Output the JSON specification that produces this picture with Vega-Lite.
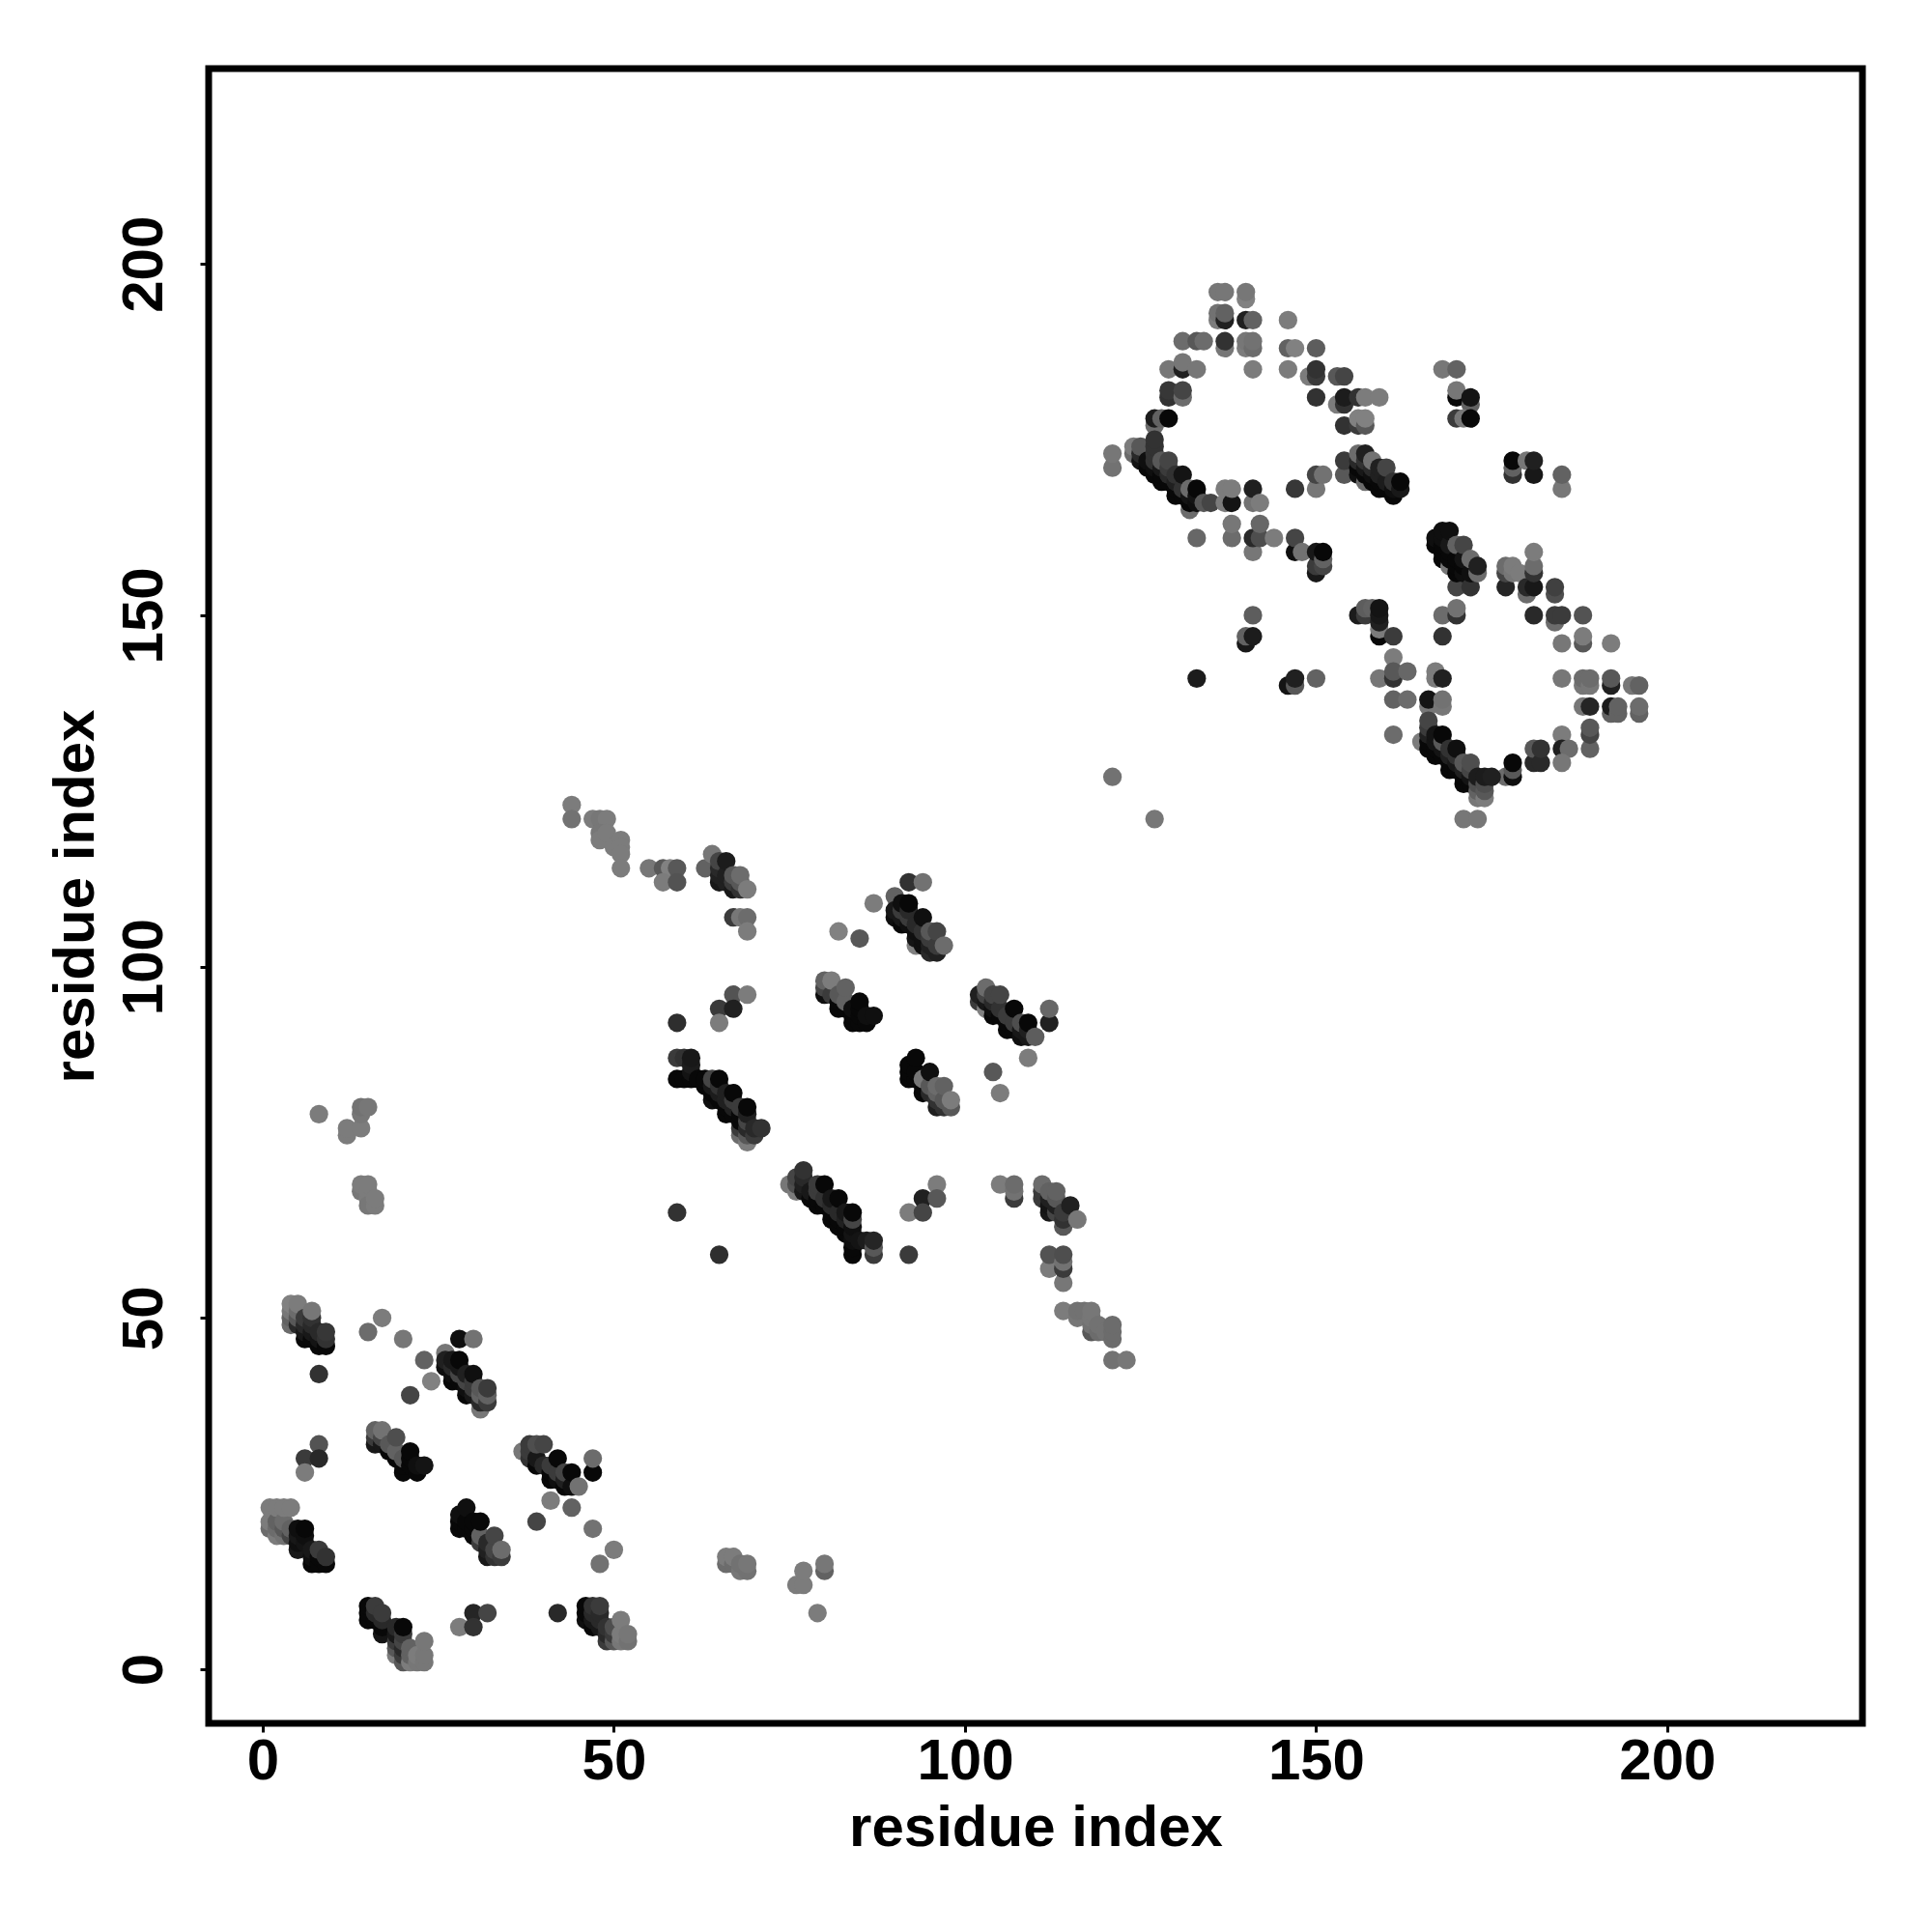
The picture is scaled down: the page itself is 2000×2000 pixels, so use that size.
{"$schema":"https://vega.github.io/schema/vega-lite/v6.json","width":1712,"height":1713,"autosize":{"type":"none"},"padding":{"left":216,"top":71,"right":72,"bottom":216},"background":"white","view":{"stroke":"black","strokeWidth":7},
"data":{"values":[
{"x":4,"y":49,"g":110},{"x":4,"y":50,"g":100},{"x":4,"y":51,"g":120},{"x":4,"y":52,"g":130},{"x":5,"y":49,"g":40},{"x":5,"y":50,"g":90},{"x":5,"y":51,"g":110},{"x":5,"y":52,"g":125},{"x":6,"y":47,"g":5},{"x":6,"y":48,"g":20},{"x":6,"y":49,"g":40},{"x":6,"y":50,"g":60},{"x":7,"y":47,"g":5},{"x":7,"y":48,"g":20},{"x":7,"y":49,"g":40},{"x":7,"y":50,"g":50},{"x":7,"y":51,"g":120},{"x":8,"y":46,"g":5},{"x":8,"y":47,"g":15},{"x":8,"y":48,"g":40},{"x":9,"y":46,"g":5},{"x":9,"y":47,"g":50},{"x":9,"y":48,"g":55},
{"x":8,"y":42,"g":50},{"x":15,"y":48,"g":110},{"x":17,"y":50,"g":125},{"x":20,"y":47,"g":120},{"x":23,"y":44,"g":100},{"x":21,"y":39,"g":70},{"x":24,"y":41,"g":130},{"x":28,"y":47,"g":10},{"x":30,"y":47,"g":115},{"x":26,"y":45,"g":120},
{"x":26,"y":43,"g":10},{"x":26,"y":44,"g":30},{"x":27,"y":41,"g":5},{"x":27,"y":42,"g":10},{"x":27,"y":43,"g":40},{"x":27,"y":44,"g":20},{"x":28,"y":41,"g":5},{"x":28,"y":42,"g":70},{"x":28,"y":43,"g":20},{"x":28,"y":44,"g":5},{"x":29,"y":39,"g":5},{"x":29,"y":40,"g":10},{"x":29,"y":41,"g":70},{"x":29,"y":42,"g":30},{"x":30,"y":39,"g":20},{"x":30,"y":40,"g":60},{"x":30,"y":41,"g":60},{"x":30,"y":42,"g":10},{"x":31,"y":37,"g":120},{"x":31,"y":38,"g":40},{"x":31,"y":39,"g":100},{"x":31,"y":40,"g":90},{"x":32,"y":38,"g":60},{"x":32,"y":39,"g":100},{"x":32,"y":40,"g":60},
{"x":16,"y":32,"g":20},{"x":16,"y":33,"g":60},{"x":16,"y":34,"g":100},{"x":17,"y":32,"g":20},{"x":17,"y":33,"g":70},{"x":17,"y":34,"g":115},{"x":18,"y":31,"g":5},{"x":18,"y":32,"g":90},{"x":19,"y":30,"g":5},{"x":19,"y":31,"g":100},{"x":19,"y":33,"g":80},{"x":20,"y":28,"g":5},{"x":20,"y":29,"g":5},{"x":20,"y":30,"g":90},{"x":21,"y":29,"g":5},{"x":21,"y":30,"g":5},{"x":21,"y":31,"g":5},{"x":22,"y":28,"g":5},{"x":22,"y":29,"g":10},{"x":23,"y":29,"g":15},
{"x":8,"y":32,"g":85},{"x":6,"y":30,"g":60},{"x":8,"y":30,"g":40},{"x":6,"y":28,"g":125},
{"x":1,"y":20,"g":110},{"x":1,"y":21,"g":125},{"x":1,"y":23,"g":125},{"x":2,"y":19,"g":125},{"x":2,"y":20,"g":110},{"x":2,"y":21,"g":100},{"x":2,"y":23,"g":125},{"x":3,"y":19,"g":115},{"x":3,"y":20,"g":90},{"x":3,"y":21,"g":110},{"x":3,"y":23,"g":125},{"x":4,"y":19,"g":70},{"x":4,"y":20,"g":100},{"x":4,"y":23,"g":125},{"x":5,"y":17,"g":20},{"x":5,"y":18,"g":10},{"x":5,"y":19,"g":20},{"x":5,"y":20,"g":10},{"x":6,"y":18,"g":15},{"x":6,"y":19,"g":10},{"x":6,"y":20,"g":5},{"x":7,"y":15,"g":5},{"x":7,"y":16,"g":10},{"x":7,"y":17,"g":20},{"x":8,"y":15,"g":5},{"x":8,"y":16,"g":5},{"x":8,"y":17,"g":60},{"x":9,"y":15,"g":5},{"x":9,"y":16,"g":50},
{"x":28,"y":20,"g":5},{"x":28,"y":21,"g":5},{"x":28,"y":22,"g":10},{"x":29,"y":20,"g":5},{"x":29,"y":21,"g":5},{"x":29,"y":23,"g":10},{"x":30,"y":19,"g":5},{"x":30,"y":20,"g":5},{"x":30,"y":21,"g":5},{"x":31,"y":18,"g":60},{"x":31,"y":19,"g":100},{"x":31,"y":21,"g":5},{"x":32,"y":16,"g":20},{"x":32,"y":17,"g":30},{"x":32,"y":18,"g":40},{"x":33,"y":16,"g":50},{"x":33,"y":17,"g":70},{"x":33,"y":19,"g":70},{"x":34,"y":16,"g":60},{"x":34,"y":17,"g":110},
{"x":37,"y":31,"g":120},{"x":38,"y":30,"g":50},{"x":38,"y":31,"g":60},{"x":38,"y":32,"g":60},{"x":39,"y":29,"g":5},{"x":39,"y":30,"g":20},{"x":39,"y":32,"g":80},{"x":40,"y":29,"g":40},{"x":40,"y":32,"g":70},{"x":41,"y":27,"g":5},{"x":41,"y":28,"g":5},{"x":41,"y":29,"g":60},{"x":42,"y":27,"g":10},{"x":42,"y":28,"g":60},{"x":42,"y":30,"g":5},{"x":43,"y":26,"g":5},{"x":43,"y":27,"g":30},{"x":43,"y":28,"g":70},{"x":44,"y":26,"g":10},{"x":44,"y":28,"g":5},{"x":45,"y":26,"g":115},{"x":47,"y":28,"g":5},{"x":47,"y":30,"g":110},{"x":41,"y":24,"g":125},{"x":44,"y":23,"g":100},{"x":39,"y":21,"g":70},{"x":47,"y":20,"g":115},{"x":50,"y":17,"g":125},{"x":48,"y":15,"g":115},
{"x":15,"y":7,"g":5},{"x":15,"y":8,"g":5},{"x":15,"y":9,"g":5},{"x":16,"y":7,"g":5},{"x":16,"y":8,"g":40},{"x":16,"y":9,"g":60},{"x":17,"y":5,"g":15},{"x":17,"y":6,"g":5},{"x":17,"y":7,"g":40},{"x":17,"y":8,"g":60},{"x":19,"y":2,"g":125},{"x":19,"y":3,"g":90},{"x":19,"y":4,"g":60},{"x":19,"y":5,"g":20},{"x":19,"y":6,"g":40},{"x":20,"y":1,"g":90},{"x":20,"y":2,"g":60},{"x":20,"y":3,"g":40},{"x":20,"y":4,"g":70},{"x":20,"y":5,"g":60},{"x":20,"y":6,"g":5},{"x":21,"y":1,"g":125},{"x":21,"y":2,"g":100},{"x":21,"y":3,"g":100},{"x":22,"y":1,"g":120},{"x":22,"y":2,"g":125},{"x":23,"y":1,"g":120},{"x":23,"y":2,"g":120},{"x":23,"y":4,"g":120},
{"x":30,"y":8,"g":35},{"x":32,"y":8,"g":70},{"x":28,"y":6,"g":125},{"x":30,"y":6,"g":50},{"x":42,"y":8,"g":40},
{"x":46,"y":7,"g":10},{"x":46,"y":8,"g":5},{"x":46,"y":9,"g":5},{"x":47,"y":6,"g":5},{"x":47,"y":7,"g":20},{"x":47,"y":8,"g":40},{"x":47,"y":9,"g":50},{"x":48,"y":6,"g":20},{"x":48,"y":7,"g":40},{"x":48,"y":8,"g":40},{"x":48,"y":9,"g":60},{"x":49,"y":4,"g":60},{"x":49,"y":5,"g":40},{"x":49,"y":6,"g":50},{"x":50,"y":4,"g":90},{"x":50,"y":5,"g":60},{"x":50,"y":6,"g":80},{"x":51,"y":4,"g":120},{"x":51,"y":5,"g":125},{"x":51,"y":7,"g":125},{"x":52,"y":4,"g":115},{"x":52,"y":5,"g":120},
{"x":66,"y":15,"g":110},{"x":66,"y":16,"g":125},{"x":67,"y":15,"g":110},{"x":67,"y":16,"g":125},{"x":68,"y":14,"g":120},{"x":68,"y":15,"g":115},{"x":69,"y":14,"g":115},{"x":69,"y":15,"g":120},{"x":76,"y":12,"g":125},{"x":77,"y":12,"g":125},{"x":77,"y":14,"g":125},{"x":80,"y":14,"g":100},{"x":80,"y":15,"g":120},{"x":79,"y":8,"g":125},
{"x":8,"y":79,"g":125},{"x":12,"y":76,"g":125},{"x":12,"y":77,"g":125},{"x":14,"y":77,"g":125},{"x":14,"y":79,"g":120},{"x":14,"y":80,"g":115},{"x":15,"y":80,"g":120},{"x":14,"y":68,"g":120},{"x":14,"y":69,"g":125},{"x":15,"y":67,"g":125},{"x":15,"y":68,"g":125},{"x":15,"y":69,"g":125},{"x":15,"y":66,"g":120},{"x":16,"y":66,"g":125},{"x":16,"y":67,"g":125},
{"x":44,"y":123,"g":125},{"x":44,"y":121,"g":115},{"x":47,"y":121,"g":125},{"x":48,"y":121,"g":120},{"x":49,"y":121,"g":125},{"x":48,"y":119,"g":120},{"x":48,"y":118,"g":125},{"x":49,"y":119,"g":125},{"x":50,"y":117,"g":125},{"x":51,"y":118,"g":125},{"x":51,"y":117,"g":125},{"x":51,"y":116,"g":125},{"x":51,"y":114,"g":125},
{"x":55,"y":114,"g":120},{"x":57,"y":114,"g":90},{"x":58,"y":114,"g":130},{"x":59,"y":114,"g":90},{"x":57,"y":112,"g":125},{"x":59,"y":112,"g":85},
{"x":63,"y":114,"g":100},{"x":64,"y":116,"g":120},{"x":65,"y":112,"g":20},{"x":65,"y":113,"g":30},{"x":65,"y":114,"g":40},{"x":65,"y":115,"g":70},{"x":66,"y":112,"g":30},{"x":66,"y":113,"g":30},{"x":66,"y":115,"g":25},{"x":67,"y":111,"g":20},{"x":67,"y":112,"g":60},{"x":67,"y":113,"g":90},{"x":68,"y":111,"g":50},{"x":68,"y":112,"g":90},{"x":68,"y":113,"g":110},{"x":69,"y":111,"g":125},
{"x":67,"y":107,"g":60},{"x":68,"y":107,"g":120},{"x":69,"y":107,"g":110},{"x":69,"y":105,"g":125},
{"x":92,"y":112,"g":50},{"x":94,"y":112,"g":115},{"x":90,"y":110,"g":100},{"x":87,"y":109,"g":125},{"x":82,"y":105,"g":130},{"x":85,"y":104,"g":90},
{"x":90,"y":107,"g":10},{"x":90,"y":108,"g":20},{"x":91,"y":106,"g":5},{"x":91,"y":107,"g":20},{"x":91,"y":108,"g":60},{"x":91,"y":109,"g":10},{"x":92,"y":106,"g":10},{"x":92,"y":107,"g":60},{"x":92,"y":108,"g":40},{"x":92,"y":109,"g":5},{"x":93,"y":103,"g":130},{"x":93,"y":104,"g":15},{"x":93,"y":105,"g":10},{"x":93,"y":106,"g":40},{"x":94,"y":103,"g":10},{"x":94,"y":104,"g":10},{"x":94,"y":105,"g":50},{"x":94,"y":107,"g":10},{"x":95,"y":102,"g":40},{"x":95,"y":103,"g":30},{"x":95,"y":104,"g":60},{"x":95,"y":105,"g":90},{"x":96,"y":102,"g":30},{"x":96,"y":103,"g":60},{"x":96,"y":105,"g":70},{"x":97,"y":103,"g":110},
{"x":80,"y":96,"g":10},{"x":80,"y":97,"g":70},{"x":80,"y":98,"g":100},{"x":81,"y":96,"g":60},{"x":81,"y":98,"g":125},{"x":82,"y":94,"g":5},{"x":82,"y":95,"g":5},{"x":82,"y":96,"g":90},{"x":83,"y":94,"g":5},{"x":83,"y":95,"g":100},{"x":83,"y":97,"g":100},{"x":84,"y":92,"g":5},{"x":84,"y":93,"g":5},{"x":84,"y":94,"g":10},{"x":85,"y":92,"g":5},{"x":85,"y":93,"g":5},{"x":85,"y":94,"g":5},{"x":85,"y":95,"g":5},{"x":86,"y":92,"g":5},{"x":86,"y":93,"g":10},{"x":87,"y":93,"g":10},
{"x":67,"y":96,"g":85},{"x":69,"y":96,"g":125},{"x":65,"y":94,"g":60},{"x":67,"y":94,"g":30},{"x":59,"y":92,"g":45},{"x":65,"y":92,"g":125},
{"x":59,"y":84,"g":5},{"x":59,"y":87,"g":60},{"x":60,"y":84,"g":5},{"x":60,"y":87,"g":50},{"x":61,"y":84,"g":5},{"x":61,"y":85,"g":15},{"x":61,"y":86,"g":25},{"x":61,"y":87,"g":20},{"x":62,"y":84,"g":5},{"x":63,"y":83,"g":5},{"x":63,"y":84,"g":5},{"x":64,"y":81,"g":10},{"x":64,"y":82,"g":5},{"x":64,"y":83,"g":20},{"x":64,"y":84,"g":70},{"x":65,"y":81,"g":5},{"x":65,"y":82,"g":25},{"x":65,"y":83,"g":50},{"x":65,"y":84,"g":5},{"x":66,"y":79,"g":5},{"x":66,"y":80,"g":5},{"x":66,"y":81,"g":30},{"x":66,"y":82,"g":30},{"x":67,"y":79,"g":5},{"x":67,"y":80,"g":30},{"x":67,"y":81,"g":60},{"x":67,"y":82,"g":5},{"x":68,"y":76,"g":110},{"x":68,"y":77,"g":60},{"x":68,"y":78,"g":5},{"x":68,"y":79,"g":5},{"x":68,"y":80,"g":60},{"x":69,"y":75,"g":125},{"x":69,"y":76,"g":90},{"x":69,"y":77,"g":40},{"x":69,"y":78,"g":70},{"x":69,"y":79,"g":30},{"x":69,"y":80,"g":5},{"x":70,"y":76,"g":60},{"x":70,"y":77,"g":40},{"x":71,"y":77,"g":50},
{"x":92,"y":84,"g":5},{"x":92,"y":85,"g":5},{"x":92,"y":86,"g":5},{"x":93,"y":84,"g":5},{"x":93,"y":85,"g":5},{"x":93,"y":87,"g":5},{"x":94,"y":82,"g":5},{"x":94,"y":83,"g":5},{"x":94,"y":84,"g":120},{"x":95,"y":82,"g":40},{"x":95,"y":83,"g":90},{"x":95,"y":85,"g":10},{"x":96,"y":80,"g":30},{"x":96,"y":81,"g":50},{"x":96,"y":82,"g":100},{"x":96,"y":83,"g":110},{"x":97,"y":80,"g":50},{"x":97,"y":81,"g":90},{"x":97,"y":83,"g":100},{"x":98,"y":80,"g":90},{"x":98,"y":81,"g":125},
{"x":102,"y":95,"g":60},{"x":102,"y":96,"g":30},{"x":103,"y":94,"g":130},{"x":103,"y":95,"g":20},{"x":103,"y":96,"g":70},{"x":103,"y":97,"g":110},{"x":104,"y":93,"g":5},{"x":104,"y":94,"g":10},{"x":104,"y":95,"g":40},{"x":104,"y":96,"g":70},{"x":105,"y":93,"g":5},{"x":105,"y":94,"g":50},{"x":105,"y":96,"g":70},{"x":106,"y":91,"g":5},{"x":106,"y":92,"g":5},{"x":106,"y":93,"g":60},{"x":107,"y":91,"g":5},{"x":107,"y":92,"g":60},{"x":107,"y":94,"g":5},{"x":108,"y":90,"g":10},{"x":108,"y":91,"g":20},{"x":108,"y":92,"g":80},{"x":109,"y":90,"g":20},{"x":109,"y":91,"g":30},{"x":109,"y":92,"g":5},{"x":110,"y":90,"g":95},{"x":112,"y":92,"g":30},{"x":112,"y":94,"g":105},{"x":109,"y":87,"g":125},{"x":104,"y":85,"g":90},{"x":105,"y":82,"g":125},
{"x":59,"y":65,"g":50},{"x":65,"y":59,"g":45},{"x":92,"y":59,"g":60},
{"x":75,"y":69,"g":120},{"x":76,"y":68,"g":125},{"x":76,"y":69,"g":80},{"x":76,"y":70,"g":70},{"x":77,"y":68,"g":20},{"x":77,"y":69,"g":30},{"x":77,"y":70,"g":40},{"x":77,"y":71,"g":50},{"x":78,"y":67,"g":5},{"x":78,"y":68,"g":20},{"x":79,"y":66,"g":5},{"x":79,"y":67,"g":5},{"x":79,"y":68,"g":60},{"x":79,"y":69,"g":60},{"x":80,"y":66,"g":5},{"x":80,"y":67,"g":50},{"x":80,"y":69,"g":5},{"x":81,"y":64,"g":5},{"x":81,"y":65,"g":5},{"x":81,"y":66,"g":40},{"x":81,"y":67,"g":20},{"x":82,"y":63,"g":5},{"x":82,"y":64,"g":5},{"x":82,"y":65,"g":40},{"x":82,"y":67,"g":5},{"x":83,"y":62,"g":5},{"x":83,"y":63,"g":5},{"x":83,"y":64,"g":30},{"x":83,"y":65,"g":20},{"x":84,"y":59,"g":5},{"x":84,"y":60,"g":5},{"x":84,"y":61,"g":10},{"x":84,"y":62,"g":15},{"x":84,"y":63,"g":10},{"x":84,"y":64,"g":70},{"x":84,"y":65,"g":5},{"x":85,"y":61,"g":15},{"x":86,"y":61,"g":25},{"x":87,"y":59,"g":60},{"x":87,"y":60,"g":90},{"x":87,"y":61,"g":35},
{"x":96,"y":69,"g":125},{"x":94,"y":67,"g":30},{"x":96,"y":67,"g":90},{"x":92,"y":65,"g":125},{"x":94,"y":65,"g":70},
{"x":105,"y":69,"g":125},{"x":107,"y":67,"g":60},{"x":107,"y":68,"g":115},{"x":107,"y":69,"g":110},
{"x":111,"y":67,"g":60},{"x":111,"y":68,"g":60},{"x":111,"y":69,"g":110},{"x":112,"y":65,"g":20},{"x":112,"y":66,"g":15},{"x":112,"y":67,"g":30},{"x":112,"y":68,"g":100},{"x":113,"y":65,"g":70},{"x":113,"y":66,"g":30},{"x":113,"y":67,"g":90},{"x":113,"y":68,"g":100},{"x":114,"y":63,"g":90},{"x":114,"y":64,"g":50},{"x":114,"y":65,"g":60},{"x":115,"y":66,"g":30},{"x":116,"y":64,"g":120},
{"x":112,"y":57,"g":125},{"x":112,"y":59,"g":85},{"x":114,"y":55,"g":120},{"x":114,"y":57,"g":60},{"x":114,"y":58,"g":115},{"x":114,"y":59,"g":80},
{"x":114,"y":51,"g":125},{"x":116,"y":50,"g":120},{"x":116,"y":51,"g":115},{"x":117,"y":51,"g":115},{"x":118,"y":48,"g":90},{"x":118,"y":49,"g":115},{"x":118,"y":50,"g":120},{"x":118,"y":51,"g":120},{"x":119,"y":48,"g":110},{"x":119,"y":49,"g":115},{"x":120,"y":48,"g":115},{"x":121,"y":47,"g":110},{"x":121,"y":48,"g":110},{"x":121,"y":49,"g":110},{"x":121,"y":44,"g":115},{"x":123,"y":44,"g":120},
{"x":121,"y":127,"g":115},{"x":127,"y":121,"g":120},
{"x":136,"y":196,"g":120},{"x":137,"y":196,"g":120},{"x":140,"y":195,"g":130},{"x":140,"y":196,"g":120},{"x":136,"y":192,"g":125},{"x":136,"y":193,"g":115},{"x":137,"y":192,"g":30},{"x":137,"y":193,"g":100},{"x":140,"y":192,"g":30},{"x":141,"y":192,"g":100},{"x":146,"y":192,"g":125},
{"x":131,"y":189,"g":110},{"x":133,"y":189,"g":90},{"x":134,"y":189,"g":110},{"x":137,"y":188,"g":120},{"x":137,"y":189,"g":50},{"x":140,"y":188,"g":125},{"x":140,"y":189,"g":120},{"x":141,"y":188,"g":110},{"x":141,"y":189,"g":115},{"x":146,"y":188,"g":100},{"x":147,"y":188,"g":130},{"x":150,"y":188,"g":95},
{"x":129,"y":185,"g":120},{"x":131,"y":185,"g":30},{"x":131,"y":186,"g":120},{"x":133,"y":185,"g":120},{"x":141,"y":185,"g":125},{"x":146,"y":185,"g":125},{"x":149,"y":184,"g":125},{"x":150,"y":184,"g":60},{"x":150,"y":185,"g":50},{"x":153,"y":184,"g":90},{"x":154,"y":184,"g":70},
{"x":129,"y":181,"g":50},{"x":129,"y":182,"g":55},{"x":131,"y":181,"g":110},{"x":131,"y":182,"g":70},{"x":150,"y":181,"g":50},{"x":153,"y":180,"g":125},{"x":154,"y":180,"g":50},{"x":154,"y":181,"g":25},{"x":156,"y":181,"g":50},{"x":157,"y":181,"g":125},{"x":159,"y":181,"g":125},
{"x":127,"y":177,"g":110},{"x":127,"y":178,"g":25},{"x":128,"y":178,"g":100},{"x":129,"y":178,"g":5},{"x":154,"y":177,"g":50},{"x":156,"y":177,"g":60},{"x":156,"y":178,"g":130},{"x":157,"y":177,"g":90},{"x":157,"y":178,"g":130},
{"x":121,"y":171,"g":115},{"x":121,"y":173,"g":120},{"x":124,"y":173,"g":110},{"x":124,"y":174,"g":125},{"x":125,"y":172,"g":15},{"x":125,"y":173,"g":40},{"x":125,"y":174,"g":90},{"x":126,"y":171,"g":5},{"x":126,"y":172,"g":10},{"x":127,"y":170,"g":5},{"x":127,"y":171,"g":10},{"x":127,"y":172,"g":50},{"x":127,"y":173,"g":50},{"x":127,"y":174,"g":50},{"x":127,"y":175,"g":50},{"x":128,"y":169,"g":5},{"x":128,"y":170,"g":5},{"x":128,"y":171,"g":20},{"x":128,"y":172,"g":90},{"x":129,"y":169,"g":5},{"x":129,"y":170,"g":40},{"x":129,"y":171,"g":60},{"x":129,"y":172,"g":70},{"x":130,"y":167,"g":5},{"x":130,"y":168,"g":5},{"x":130,"y":169,"g":30},{"x":130,"y":170,"g":50},{"x":131,"y":167,"g":5},{"x":131,"y":168,"g":50},{"x":131,"y":170,"g":15},{"x":132,"y":165,"g":110},{"x":132,"y":166,"g":5},{"x":132,"y":167,"g":15},{"x":132,"y":168,"g":110},{"x":133,"y":166,"g":10},{"x":133,"y":167,"g":15},{"x":133,"y":168,"g":5},{"x":134,"y":166,"g":90},{"x":135,"y":166,"g":70},
{"x":137,"y":166,"g":125},{"x":137,"y":168,"g":125},{"x":138,"y":166,"g":15},{"x":138,"y":168,"g":125},{"x":141,"y":166,"g":115},{"x":141,"y":168,"g":30},{"x":142,"y":166,"g":125},{"x":147,"y":168,"g":55},{"x":150,"y":168,"g":120},{"x":150,"y":170,"g":70},{"x":151,"y":170,"g":115},
{"x":138,"y":161,"g":110},{"x":138,"y":163,"g":120},{"x":133,"y":161,"g":105},{"x":141,"y":159,"g":120},{"x":141,"y":161,"g":40},{"x":142,"y":161,"g":80},{"x":142,"y":163,"g":105},{"x":144,"y":161,"g":125},{"x":147,"y":159,"g":10},{"x":147,"y":161,"g":70},{"x":148,"y":159,"g":115},{"x":150,"y":156,"g":20},{"x":150,"y":157,"g":60},{"x":150,"y":159,"g":20},{"x":151,"y":157,"g":70},{"x":151,"y":158,"g":100},{"x":151,"y":159,"g":5},
{"x":154,"y":170,"g":90},{"x":154,"y":172,"g":60},{"x":156,"y":170,"g":10},{"x":156,"y":171,"g":5},{"x":156,"y":172,"g":40},{"x":156,"y":173,"g":110},{"x":157,"y":169,"g":110},{"x":157,"y":170,"g":5},{"x":157,"y":171,"g":20},{"x":157,"y":172,"g":50},{"x":157,"y":173,"g":30},{"x":158,"y":169,"g":5},{"x":158,"y":170,"g":10},{"x":158,"y":171,"g":40},{"x":158,"y":172,"g":115},{"x":159,"y":168,"g":5},{"x":159,"y":169,"g":5},{"x":159,"y":170,"g":30},{"x":159,"y":171,"g":30},{"x":160,"y":168,"g":5},{"x":160,"y":169,"g":25},{"x":160,"y":171,"g":70},{"x":161,"y":167,"g":5},{"x":161,"y":168,"g":10},{"x":161,"y":169,"g":50},{"x":162,"y":168,"g":20},{"x":162,"y":169,"g":5},
{"x":168,"y":185,"g":120},{"x":170,"y":185,"g":100},{"x":170,"y":181,"g":5},{"x":170,"y":182,"g":120},{"x":172,"y":180,"g":100},{"x":172,"y":181,"g":15},{"x":170,"y":178,"g":60},{"x":171,"y":178,"g":120},{"x":172,"y":178,"g":5},
{"x":178,"y":170,"g":50},{"x":178,"y":171,"g":100},{"x":178,"y":172,"g":5},{"x":180,"y":172,"g":120},{"x":181,"y":170,"g":20},{"x":181,"y":172,"g":30},{"x":185,"y":168,"g":120},{"x":185,"y":170,"g":100},
{"x":168,"y":147,"g":50},{"x":168,"y":150,"g":110},{"x":170,"y":150,"g":50},{"x":170,"y":151,"g":115},
{"x":141,"y":150,"g":95},{"x":140,"y":146,"g":20},{"x":140,"y":147,"g":100},{"x":141,"y":147,"g":25},
{"x":133,"y":141,"g":25},{"x":146,"y":140,"g":15},{"x":147,"y":140,"g":90},{"x":147,"y":141,"g":30},{"x":150,"y":141,"g":100},
{"x":156,"y":150,"g":25},{"x":157,"y":150,"g":60},{"x":157,"y":151,"g":95},{"x":158,"y":151,"g":100},{"x":159,"y":147,"g":5},{"x":159,"y":148,"g":125},{"x":159,"y":149,"g":30},{"x":159,"y":150,"g":20},{"x":159,"y":151,"g":15},{"x":161,"y":147,"g":60},{"x":161,"y":144,"g":125},{"x":159,"y":141,"g":120},{"x":161,"y":141,"g":50},{"x":161,"y":142,"g":90},{"x":163,"y":142,"g":105},{"x":167,"y":141,"g":125},{"x":167,"y":142,"g":125},{"x":168,"y":141,"g":30},{"x":161,"y":138,"g":100},{"x":163,"y":138,"g":110},{"x":161,"y":133,"g":110},
{"x":167,"y":160,"g":5},{"x":167,"y":161,"g":10},{"x":168,"y":158,"g":5},{"x":168,"y":159,"g":5},{"x":168,"y":160,"g":5},{"x":168,"y":161,"g":10},{"x":168,"y":162,"g":10},{"x":169,"y":157,"g":120},{"x":169,"y":158,"g":5},{"x":169,"y":159,"g":5},{"x":169,"y":160,"g":20},{"x":169,"y":162,"g":10},{"x":170,"y":154,"g":70},{"x":170,"y":156,"g":5},{"x":170,"y":157,"g":5},{"x":170,"y":158,"g":5},{"x":170,"y":160,"g":100},{"x":171,"y":156,"g":10},{"x":171,"y":157,"g":5},{"x":171,"y":158,"g":15},{"x":171,"y":160,"g":70},{"x":172,"y":154,"g":50},{"x":172,"y":156,"g":10},{"x":172,"y":158,"g":110},{"x":173,"y":156,"g":110},{"x":173,"y":157,"g":30},
{"x":177,"y":154,"g":35},{"x":177,"y":156,"g":70},{"x":177,"y":157,"g":110},{"x":178,"y":156,"g":120},{"x":178,"y":157,"g":125},{"x":179,"y":156,"g":125},{"x":180,"y":153,"g":110},{"x":180,"y":154,"g":40},{"x":181,"y":154,"g":20},{"x":181,"y":156,"g":50},{"x":181,"y":157,"g":110},{"x":181,"y":159,"g":125},{"x":184,"y":153,"g":80},{"x":184,"y":154,"g":65},
{"x":181,"y":150,"g":40},{"x":184,"y":149,"g":110},{"x":184,"y":150,"g":60},{"x":185,"y":150,"g":60},{"x":188,"y":150,"g":85},{"x":185,"y":146,"g":120},{"x":188,"y":146,"g":90},{"x":188,"y":147,"g":125},{"x":192,"y":146,"g":125},
{"x":185,"y":141,"g":120},{"x":188,"y":140,"g":120},{"x":188,"y":141,"g":110},{"x":189,"y":140,"g":120},{"x":189,"y":141,"g":110},{"x":192,"y":140,"g":30},{"x":192,"y":141,"g":90},{"x":195,"y":140,"g":120},{"x":196,"y":140,"g":100},
{"x":188,"y":137,"g":120},{"x":189,"y":137,"g":35},{"x":192,"y":136,"g":100},{"x":192,"y":137,"g":25},{"x":193,"y":136,"g":100},{"x":193,"y":137,"g":100},{"x":196,"y":136,"g":100},{"x":196,"y":137,"g":110},
{"x":189,"y":131,"g":100},{"x":189,"y":133,"g":70},{"x":189,"y":134,"g":90},{"x":185,"y":133,"g":125},{"x":185,"y":131,"g":30},{"x":186,"y":131,"g":110},{"x":181,"y":129,"g":40},{"x":181,"y":131,"g":90},{"x":182,"y":129,"g":40},{"x":182,"y":131,"g":50},{"x":185,"y":129,"g":120},
{"x":177,"y":127,"g":110},{"x":178,"y":127,"g":10},{"x":178,"y":128,"g":90},{"x":178,"y":129,"g":5},
{"x":166,"y":137,"g":120},{"x":166,"y":138,"g":15},{"x":168,"y":137,"g":120},{"x":168,"y":138,"g":115},
{"x":165,"y":132,"g":125},{"x":166,"y":131,"g":5},{"x":166,"y":132,"g":5},{"x":166,"y":133,"g":30},{"x":166,"y":134,"g":60},{"x":166,"y":135,"g":70},{"x":167,"y":130,"g":5},{"x":167,"y":131,"g":5},{"x":167,"y":132,"g":15},{"x":167,"y":133,"g":15},{"x":168,"y":130,"g":5},{"x":168,"y":131,"g":15},{"x":168,"y":132,"g":90},{"x":168,"y":133,"g":5},{"x":169,"y":128,"g":5},{"x":169,"y":129,"g":5},{"x":169,"y":130,"g":30},{"x":169,"y":131,"g":50},{"x":170,"y":128,"g":5},{"x":170,"y":129,"g":20},{"x":170,"y":130,"g":50},{"x":170,"y":131,"g":10},{"x":171,"y":126,"g":5},{"x":171,"y":127,"g":5},{"x":171,"y":128,"g":30},{"x":171,"y":129,"g":90},{"x":172,"y":126,"g":5},{"x":172,"y":127,"g":15},{"x":172,"y":128,"g":70},{"x":172,"y":129,"g":80},{"x":173,"y":124,"g":120},{"x":173,"y":125,"g":100},{"x":173,"y":126,"g":80},{"x":173,"y":127,"g":25},{"x":174,"y":124,"g":125},{"x":174,"y":125,"g":90},{"x":174,"y":126,"g":80},{"x":174,"y":127,"g":25},{"x":175,"y":127,"g":30},{"x":171,"y":121,"g":120},{"x":173,"y":121,"g":120}
]},
"mark":{"type":"point","filled":true,"shape":"circle","opacity":1,"size":370,"strokeWidth":0},
"encoding":{
"x":{"field":"x","type":"quantitative","scale":{"domain":[-7.7,227.8],"nice":false,"zero":false},"axis":{"values":[0,50,100,150,200],"grid":false,"domain":false,"tickColor":"black","tickWidth":3,"tickSize":9,"labelFont":"Liberation Sans","labelFontWeight":"bold","labelFontSize":60,"labelColor":"black","labelPadding":1,"labelFlush":false,"labelOverlap":false,"title":"residue index","titleFont":"Liberation Sans","titleFontWeight":"bold","titleFontSize":60,"titleColor":"black","titlePadding":10}},
"y":{"field":"y","type":"quantitative","scale":{"domain":[-7.7,227.8],"nice":false,"zero":false},"axis":{"values":[0,50,100,150,200],"grid":false,"domain":false,"tickColor":"black","tickWidth":3,"tickSize":9,"labelFont":"Liberation Sans","labelFontWeight":"bold","labelFontSize":60,"labelColor":"black","labelAngle":-90,"labelAlign":"center","labelBaseline":"bottom","labelPadding":27,"labelFlush":false,"labelOverlap":false,"title":"residue index","titleFont":"Liberation Sans","titleFontWeight":"bold","titleFontSize":60,"titleColor":"black","titlePadding":10}},
"color":{"field":"g","type":"quantitative","scale":{"domain":[0,140],"range":["#000000","#8c8c8c"]},"legend":null},
"order":[{"field":"x"},{"field":"y"}]
}}
